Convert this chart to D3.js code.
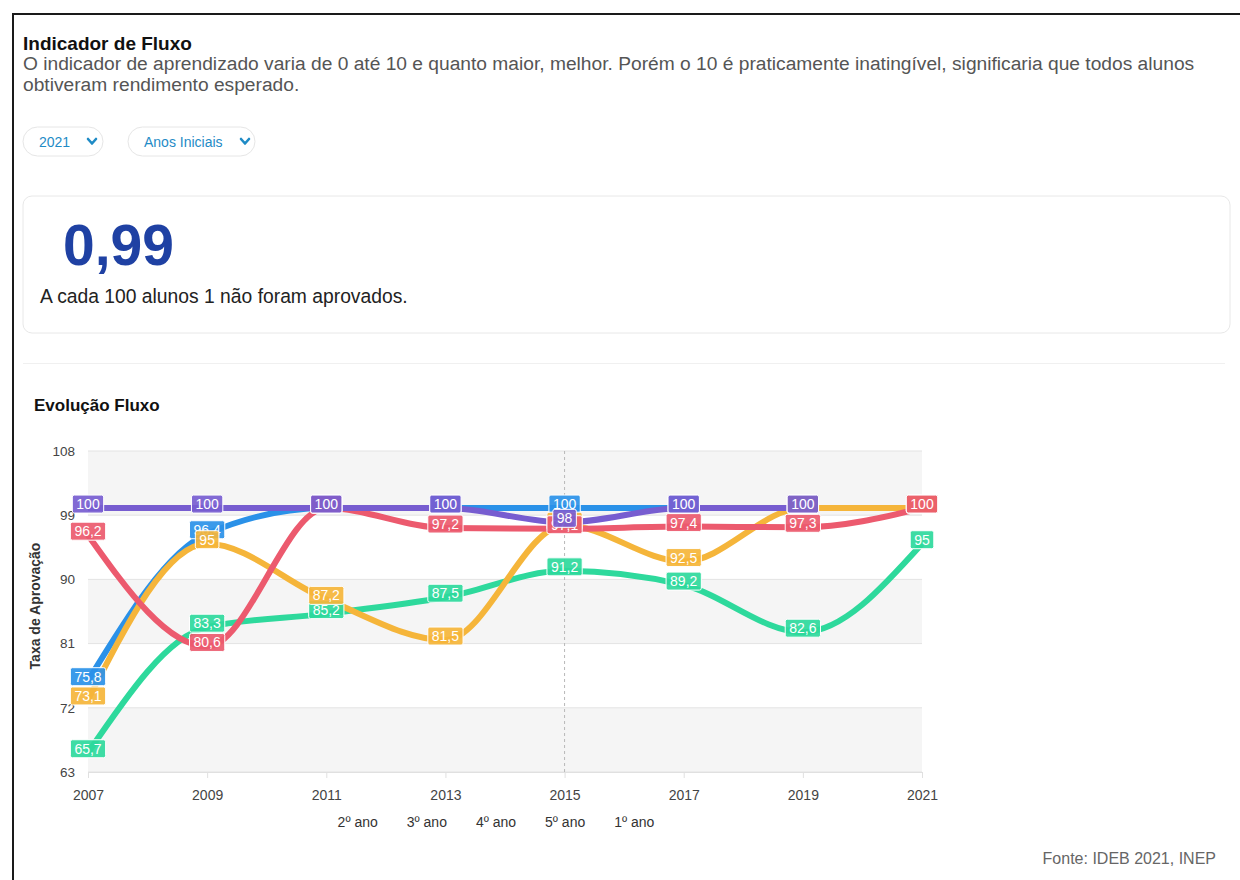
<!DOCTYPE html>
<html>
<head>
<meta charset="utf-8">
<script src="https://cdn.jsdelivr.net/npm/d3@7"></script>
<style>
  html, body { margin: 0; padding: 0; background: #fff; }
  svg { display: block; font-family: "Liberation Sans", Arial, sans-serif; }
</style>
</head>
<body>
<svg id="chart" width="1240" height="880"></svg>
<script>
// ---- data ----
const years = [2007, 2009, 2011, 2013, 2015, 2017, 2019, 2021];
const seriesNames = ["2º ano", "3º ano", "4º ano", "5º ano", "1º ano"];
const ano2 = [75.8, 96.4, 100, 100, 100, 100, 100, 100];
const ano3 = [65.7, 83.3, 85.2, 87.5, 91.2, 89.2, 82.6, 95];
const ano4 = [73.1, 95, 87.2, 81.5, 97.6, 92.5, 100, 100];
const ano5 = [96.2, 80.6, 100, 97.2, 97.1, 97.4, 97.3, 100];
const ano1 = [100, 100, 100, 100, 98, 100, 100, null];
const seriesColors = ["#2a91e8", "#2ed99c", "#f5b53a", "#ec5a6e", "#775dd0"];
const yTicks = [63, 72, 81, 90, 99, 108];
const indicador = "0,99";

const seriesValues = [ano2, ano3, ano4, ano5, ano1];
const series = seriesNames.map((n, i) => ({ name: n, color: seriesColors[i], values: seriesValues[i] }));

const svg = d3.select("#chart");
const FONT = '"Liberation Sans", Arial, sans-serif';

// ---- page frame ----
svg.append("line").attr("x1", 13).attr("x2", 1240).attr("y1", 14).attr("y2", 14)
  .attr("stroke", "#1a1a1a").attr("stroke-width", 2);
svg.append("line").attr("x1", 13).attr("x2", 13).attr("y1", 13).attr("y2", 880)
  .attr("stroke", "#1a1a1a").attr("stroke-width", 2);

// ---- header ----
svg.append("text").attr("x", 23).attr("y", 50).attr("font-size", 19).attr("font-weight", "bold")
  .attr("fill", "#111").text("Indicador de Fluxo");
const desc = svg.append("text").attr("font-size", 19.2).attr("fill", "#555");
desc.append("tspan").attr("x", 23).attr("y", 70)
  .text("O indicador de aprendizado varia de 0 até 10 e quanto maior, melhor. Porém o 10 é praticamente inatingível, significaria que todos alunos");
desc.append("tspan").attr("x", 23).attr("y", 91).text("obtiveram rendimento esperado.");

// dropdown pills
function pill(x, w, label, chevX) {
  const g = svg.append("g");
  g.append("rect").attr("x", x).attr("y", 127).attr("width", w).attr("height", 29).attr("rx", 14.5)
    .attr("fill", "#fff").attr("stroke", "#e6e6e6");
  g.append("text").attr("x", x + 16).attr("y", 146.5).attr("font-size", 14).attr("fill", "#1f8bc6").text(label);
  g.append("path").attr("d", `M${chevX - 4},${139} L${chevX},${143.5} L${chevX + 4},${139}`)
    .attr("fill", "none").attr("stroke", "#1f8bc6").attr("stroke-width", 2.6).attr("stroke-linecap", "round").attr("stroke-linejoin", "round");
}
pill(23, 80, "2021", 92);
pill(128, 127, "Anos Iniciais", 245);

// card
svg.append("rect").attr("x", 23).attr("y", 196).attr("width", 1207).attr("height", 137).attr("rx", 9)
  .attr("fill", "#fff").attr("stroke", "#e8e8e8");
svg.append("text").attr("x", 63).attr("y", 265).attr("font-size", 57).attr("font-weight", "bold")
  .attr("fill", "#1f41a3").text(indicador);
svg.append("text").attr("x", 40).attr("y", 303).attr("font-size", 19.3).attr("fill", "#222")
  .text("A cada 100 alunos 1 não foram aprovados.");

// divider
svg.append("line").attr("x1", 23).attr("x2", 1225).attr("y1", 363.5).attr("y2", 363.5).attr("stroke", "#f0f0f0");

svg.append("text").attr("x", 34).attr("y", 411).attr("font-size", 17).attr("font-weight", "bold")
  .attr("fill", "#111").text("Evolução Fluxo");

// ---- chart ----
const x = d3.scalePoint().domain(years).range([88, 922]);
const y = d3.scaleLinear().domain([63, 108]).range([772, 451]);

const grid = svg.append("g");
for (let i = 0; i < yTicks.length - 1; i++) {
  const top = yTicks[yTicks.length - 1 - i], bot = yTicks[yTicks.length - 2 - i];
  if (i % 2 === 0) {
    grid.append("rect").attr("x", 88).attr("width", 922 - 88)
      .attr("y", y(top)).attr("height", y(bot) - y(top)).attr("fill", "#f5f5f5");
  }
}
grid.selectAll("line.h").data(yTicks).join("line").attr("class", "h")
  .attr("x1", 88).attr("x2", 922).attr("y1", d => y(d)).attr("y2", d => y(d))
  .attr("stroke", "#e3e3e3").attr("stroke-width", 1);

// y axis
const yAxis = d3.axisLeft(y).tickValues(yTicks).tickSize(0).tickPadding(13);
const yg = svg.append("g").attr("transform", "translate(88,0)").call(yAxis);
yg.select(".domain").remove();
yg.selectAll("text").attr("font-size", 13.5).attr("font-family", FONT).attr("fill", "#444");

// x axis
const xAxis = d3.axisBottom(x).tickSize(6).tickPadding(12);
const xg = svg.append("g").attr("transform", "translate(0,772)").call(xAxis);
xg.select(".domain").attr("stroke", "#e0e0e0").attr("d", "M88,0.5H922");
xg.selectAll(".tick line").attr("stroke", "#e0e0e0");
xg.selectAll("text").attr("font-size", 14).attr("font-family", FONT).attr("fill", "#444");

// crosshair at 2015
svg.append("line").attr("x1", x(2015)).attr("x2", x(2015)).attr("y1", 451).attr("y2", 772)
  .attr("stroke", "#b8b8b8").attr("stroke-dasharray", "3,3");

// y axis title
svg.append("text").attr("transform", "translate(40,606) rotate(-90)").attr("text-anchor", "middle")
  .attr("font-size", 14).attr("font-weight", "bold").attr("fill", "#333").text("Taxa de Aprovação");

// lines
const line = d3.line().defined(d => d.v !== null).x(d => x(d.year)).y(d => y(d.v)).curve(d3.curveMonotoneX);
const lg = svg.append("g");
series.forEach(s => {
  const pts = years.map((yr, i) => ({ year: yr, v: s.values[i] }));
  lg.append("path").attr("d", line(pts)).attr("fill", "none").attr("stroke", s.color)
    .attr("stroke-width", 6).attr("stroke-linecap", "butt").attr("stroke-linejoin", "round");
});

// data labels
const labG = svg.append("g");
series.forEach(s => {
  years.forEach((yr, i) => {
    const v = s.values[i];
    if (v === null) return;
    const cx = x(yr), cy = y(v) - 4;
    const g = labG.append("g");
    const t = g.append("text").attr("x", cx).attr("y", cy).attr("dy", "0.36em").attr("text-anchor", "middle")
      .attr("font-size", 14).attr("fill", "#fff").text(String(v).replace(".", ","));
    const w = t.node().getComputedTextLength();
    g.insert("rect", "text").attr("x", cx - w / 2 - 4).attr("y", cy - 9).attr("width", w + 8).attr("height", 18)
      .attr("rx", 2).attr("fill", s.color).attr("fill-opacity", 0.92).attr("stroke", "#fff").attr("stroke-width", 1);
  });
});

// legend (no markers)
const leg = svg.append("g");
const items = series.map(s => {
  const t = leg.append("text").attr("y", 827).attr("font-size", 14).attr("fill", "#333").text(s.name);
  return { t, w: t.node().getComputedTextLength() };
});
const gap = 29;
const total = d3.sum(items, d => d.w) + gap * (items.length - 1);
let cur = 496 - total / 2;
items.forEach(it => { it.t.attr("x", cur); cur += it.w + gap; });

// footer
svg.append("text").attr("x", 1216).attr("y", 864).attr("text-anchor", "end").attr("font-size", 16)
  .attr("fill", "#666").text("Fonte: IDEB 2021, INEP");
</script>
</body>
</html>
